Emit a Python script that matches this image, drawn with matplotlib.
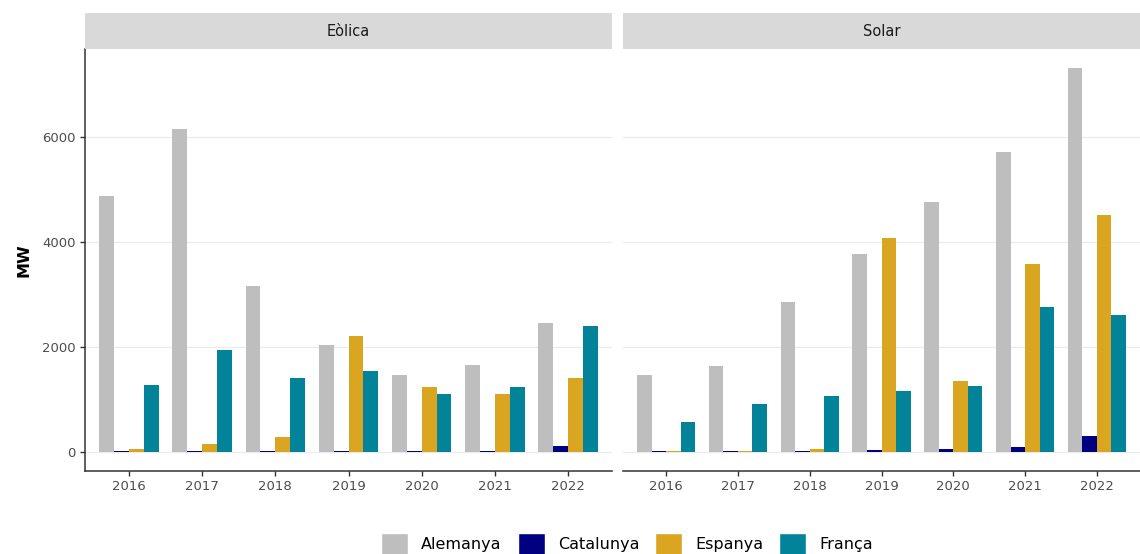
import matplotlib
matplotlib.use("Agg")
import matplotlib.pyplot as plt
import matplotlib.patches as mpatches
import numpy as np

# Installed capacity (MW)
years = ["2016", "2017", "2018", "2019", "2020", "2021", "2022"]
countries = ["Alemanya", "Catalunya", "Espanya", "França"]
colors = ["#BEBEBE", "#000080", "#DAA520", "#02839A"]

eolica_alemanya = [4860, 6150, 3150, 2030, 1460, 1650, 2460]
eolica_catalunya = [10, 10, 10, 10, 10, 10, 115]
eolica_espanya = [55, 150, 285, 2200, 1230, 1100, 1400]
eolica_franca = [1270, 1930, 1400, 1535, 1100, 1230, 2390]

solar_alemanya = [1460, 1630, 2860, 3760, 4760, 5700, 7300]
solar_catalunya = [8, 8, 8, 40, 57, 95, 300]
solar_espanya = [8, 8, 55, 4060, 1350, 3580, 4510]
solar_franca = [570, 910, 1060, 1155, 1250, 2760, 2610]

panels = [
    ("Eòlica", [eolica_alemanya, eolica_catalunya, eolica_espanya, eolica_franca]),
    ("Solar", [solar_alemanya, solar_catalunya, solar_espanya, solar_franca]),
]

W, H = 1140, 554
fig = plt.figure(figsize=(W / 100, H / 100), dpi=100)

axis_col = "#333333"
text_col = "#4D4D4D"
grid_col = "#EBEBEB"

# panel extents in pixels (left, right)
panel_px = [(85, 612), (623, 1140)]
top_px, bot_px = 49, 471
strip_top = 13

x = np.arange(len(years))
bar_w = 0.81 / 4
ymin, ymax = -365, 7665

for i, ((title, series), (l, r)) in enumerate(zip(panels, panel_px)):
    ax = fig.add_axes([l / W, (H - bot_px) / H, (r - l) / W, (bot_px - top_px) / H])
    for j, vals in enumerate(series):
        ax.bar(x + (j - 1.5) * bar_w, vals, width=bar_w, color=colors[j], zorder=2)
    ax.set_xlim(-0.6, len(years) - 0.4)
    ax.set_ylim(ymin, ymax)
    ax.set_yticks([0, 2000, 4000, 6000])
    ax.yaxis.grid(True, color=grid_col, linewidth=0.9, zorder=0)
    ax.set_axisbelow(True)
    ax.set_xticks(x)
    ax.set_xticklabels(years)
    ax.tick_params(axis="x", colors=axis_col, labelcolor=text_col, labelsize=9.5,
                   length=3.5, width=1.0, pad=3)
    for s in ["top", "right"]:
        ax.spines[s].set_visible(False)
    ax.spines["bottom"].set_color(axis_col)
    ax.spines["bottom"].set_linewidth(1.1)
    if i == 0:
        ax.spines["left"].set_color(axis_col)
        ax.spines["left"].set_linewidth(1.1)
        ax.tick_params(axis="y", colors=axis_col, labelcolor=text_col, labelsize=9.5,
                       length=3.5, width=1.0, pad=3)
        ax.set_ylabel("MW", fontsize=11.5, fontweight="bold", labelpad=8)
    else:
        ax.spines["left"].set_visible(False)
        ax.tick_params(axis="y", left=False, labelleft=False)

    # facet strip
    sax = fig.add_axes([l / W, (H - top_px) / H, (r - l) / W, (top_px - strip_top) / H])
    sax.set_facecolor("#D9D9D9")
    sax.set_xticks([])
    sax.set_yticks([])
    for s in sax.spines.values():
        s.set_visible(False)
    sax.text(0.5, 0.5, title, ha="center", va="center", fontsize=10.5,
             color="#1A1A1A", transform=sax.transAxes)

handles = [mpatches.Patch(facecolor=c, edgecolor="white", label=n)
           for c, n in zip(colors, countries)]
fig.legend(handles=handles, loc="center", bbox_to_anchor=(0.55, 10 / H),
           ncol=4, frameon=False, fontsize=11.5, handlelength=1.7, handleheight=1.7,
           handletextpad=0.8, columnspacing=1.0, borderaxespad=0)

fig.savefig("out.png", dpi=100, facecolor="white")
